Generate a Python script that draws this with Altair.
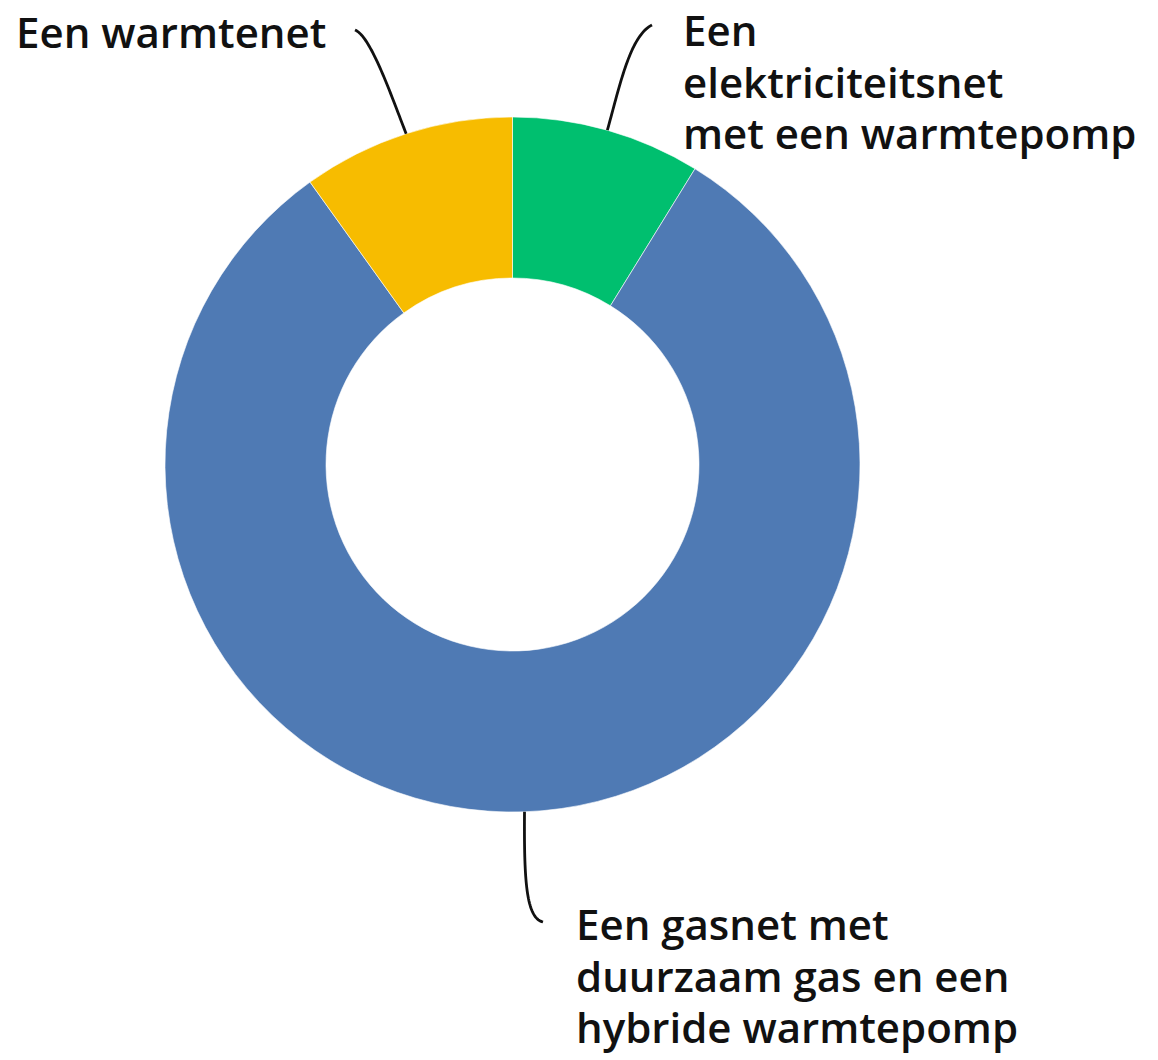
import math
import altair as alt
import pandas as pd

# ---- data ----
categories = [
    "Een elektriciteitsnet met een warmtepomp",
    "Een gasnet met duurzaam gas en een hybride warmtepomp",
    "Een warmtenet",
]
values = [8.8, 81.3, 9.9]
colors = ["#00BF6F", "#4F7AB4", "#F7BC00"]
label_lines = [
    ["Een", "elektriciteitsnet", "met een warmtepomp"],
    ["Een gasnet met", "duurzaam gas en een", "hybride warmtepomp"],
    ["Een warmtenet"],
]

# ---- layout (page pixels) ----
OFF = 8
W, H = 1142, 1052
CX, CY = 512.5, 464.5
R_OUT, R_IN = 347.5, 186.5
FONT = "Open Sans"
FSIZE = 42
LINE_H = 51.5
# label anchors (left x, first baseline y)
label_pos = [(683, 46), (576, 940), (16, 48)]
# leader control points: (P1, P2, P3) per slice, P0 comes from the slice angle
leader_ctrl = [
    [(620, 85), (630, 36), (652, 25)],
    [(524, 880), (526, 918), (543, 922)],
    [(392, 98), (371, 36), (355, 30)],
]

order = list(range(len(categories)))
df = pd.DataFrame({"cat": categories, "value": values, "order": order})

# leader lines computed from slice mid-angles
total = sum(values)
rows = []
cum = 0.0
for i, v in enumerate(values):
    mid = (cum + v / 2) / total * 2 * math.pi
    cum += v
    p0 = (CX + R_OUT * math.sin(mid), CY - R_OUT * math.cos(mid))
    p1, p2, p3 = leader_ctrl[i]
    n = 40
    for k in range(n + 1):
        t = k / n
        a = (1 - t) ** 3
        b = 3 * (1 - t) ** 2 * t
        c = 3 * (1 - t) * t ** 2
        d = t ** 3
        x = a * p0[0] + b * p1[0] + c * p2[0] + d * p3[0]
        y = a * p0[1] + b * p1[1] + c * p2[1] + d * p3[1]
        rows.append({"cat": categories[i], "k": k, "x": x - OFF, "y": y - OFF})
lead_df = pd.DataFrame(rows)

lab_df = pd.DataFrame({
    "cat": categories,
    "text": label_lines,
    "x": [p[0] - OFF for p in label_pos],
    "y": [p[1] - OFF for p in label_pos],
})

xs = alt.Scale(domain=[0, W], range=[0, W], nice=False, zero=False)
ys = alt.Scale(domain=[0, H], range=[0, H], nice=False, zero=False)

arc = alt.Chart(df).mark_arc(
    innerRadius=R_IN, outerRadius=R_OUT, stroke="white", strokeWidth=0.6
).encode(
    theta=alt.Theta("value:Q", stack=True),
    order=alt.Order("order:Q"),
    color=alt.Color("cat:N", scale=alt.Scale(domain=categories, range=colors), legend=None),
    x=alt.value(CX - OFF),
    y=alt.value(CY - OFF),
)

leaders = alt.Chart(lead_df).mark_line(color="#111111", strokeWidth=2.8).encode(
    x=alt.X("x:Q", scale=xs, axis=None),
    y=alt.Y("y:Q", scale=ys, axis=None),
    detail="cat:N",
    order="k:Q",
)

labels = alt.Chart(lab_df).mark_text(
    align="left", baseline="alphabetic", font=FONT, fontSize=FSIZE,
    fontWeight=600, color="#111111", lineHeight=LINE_H,
).encode(
    x=alt.X("x:Q", scale=xs, axis=None),
    y=alt.Y("y:Q", scale=ys, axis=None),
    text="text",
)

chart = alt.layer(arc, leaders, labels).properties(
    width=W, height=H, padding=0, autosize=alt.AutoSizeParams(type="none")
).configure_view(stroke=None)

chart.save("out.html", embed_options={"renderer": "svg", "actions": False})
